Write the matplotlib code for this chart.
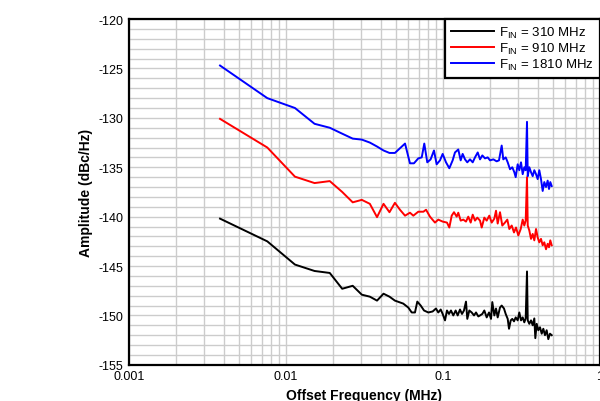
import matplotlib
matplotlib.use("Agg")
import matplotlib.pyplot as plt
from matplotlib.ticker import LogLocator, MultipleLocator

plt.rcParams["font.family"] = ["Liberation Sans", "DejaVu Sans"]
plt.rcParams["mathtext.fontset"] = "custom"
plt.rcParams["mathtext.rm"] = "Liberation Sans"
plt.rcParams["axes.unicode_minus"] = False

# offset frequency (MHz) and phase noise (dBc/Hz)
freq_310 = [0.0038, 0.0076, 0.0114, 0.0152, 0.019, 0.0228, 0.0266, 0.0304, 0.0342, 0.038,
            0.0418, 0.0456, 0.0494, 0.0558, 0.0601, 0.0632, 0.0663, 0.0686, 0.0721, 0.0757,
            0.0806, 0.0859, 0.0902, 0.0933, 0.0967, 0.0995, 0.1030, 0.1060, 0.1092, 0.1124,
            0.1163, 0.1204, 0.1240, 0.1283, 0.1321, 0.1360, 0.1401, 0.1428, 0.1471, 0.1523,
            0.1576, 0.1623, 0.1679, 0.1721, 0.1780, 0.1833, 0.1898, 0.1964, 0.2022, 0.2061,
            0.2123, 0.2176, 0.2230, 0.2307, 0.2365, 0.2446, 0.2508, 0.2583, 0.2633, 0.2700,
            0.2763, 0.2833, 0.2904, 0.2990, 0.3062, 0.3140, 0.3218, 0.3295, 0.3363, 0.3428,
            0.3465, 0.3546, 0.3636, 0.3726, 0.3816, 0.3873, 0.3952, 0.4046, 0.4148, 0.4253,
            0.4355, 0.4463, 0.4574, 0.4685, 0.4803, 0.4924]
pn_310 = [-140.2, -142.5, -144.85, -145.5, -145.7, -147.3, -147.0, -147.9, -148.1, -148.5,
          -147.8, -148.1, -148.5, -148.8, -149.2, -149.7, -149.7, -148.6, -149.0, -149.5,
          -149.7, -149.6, -149.3, -149.7, -149.4, -149.85, -150.5, -149.5, -149.85, -149.5,
          -150.0, -149.5, -150.0, -149.4, -149.85, -149.5, -148.6, -150.35, -149.5, -149.7,
          -150.0, -149.7, -150.1, -150.0, -149.85, -149.5, -150.2, -149.7, -150.35, -148.65,
          -150.0, -149.3, -150.2, -149.2, -149.0, -149.3, -149.85, -150.35, -151.35, -150.5,
          -150.35, -150.6, -150.2, -150.5, -149.7, -150.5, -150.2, -150.7, -150.3, -145.55,
          -150.5, -150.85, -150.5, -151.0, -150.3, -152.3, -150.85, -151.5, -151.2, -151.85,
          -151.35, -152.0, -151.5, -152.4, -151.85, -152.0]

freq_910 = [0.0038, 0.0076, 0.0114, 0.0152, 0.019, 0.0228, 0.0266, 0.0304, 0.0342, 0.038,
            0.0418, 0.0456, 0.0494, 0.0532, 0.0573, 0.0616, 0.0647, 0.0696, 0.0750, 0.0780,
            0.0826, 0.0889, 0.0933, 0.0995, 0.1060, 0.1097, 0.1136, 0.1175, 0.1222, 0.1251,
            0.1296, 0.1347, 0.1401, 0.1449, 0.1501, 0.1546, 0.1599, 0.1654, 0.1721, 0.1764,
            0.1833, 0.1898, 0.1972, 0.2043, 0.2123, 0.2176, 0.2230, 0.2307, 0.2386, 0.2482,
            0.2568, 0.2645, 0.2739, 0.2833, 0.2918, 0.3018, 0.3126, 0.3218, 0.3295, 0.3363,
            0.3428, 0.3465, 0.3546, 0.3636, 0.3726, 0.3816, 0.3913, 0.4009, 0.4105, 0.4209,
            0.4314, 0.4418, 0.4530, 0.4642, 0.4733, 0.4824, 0.4924]
pn_910 = [-130.1, -133.0, -135.95, -136.6, -136.4, -137.5, -138.55, -138.3, -138.7, -140.05,
          -138.7, -139.55, -138.6, -139.3, -139.9, -139.6, -139.9, -139.5, -139.5, -139.3,
          -140.0, -140.6, -140.3, -140.5, -140.6, -141.1, -139.9, -139.55, -140.0, -139.6,
          -140.4, -140.3, -140.5, -140.0, -140.6, -139.8, -140.4, -140.1, -140.4, -141.1,
          -140.1, -140.4, -139.9, -140.6, -140.2, -139.4, -140.7, -139.55, -140.9, -140.6,
          -140.3, -141.25, -140.9, -141.6, -141.1, -141.9, -141.25, -140.3, -140.9, -140.4,
          -136.0, -140.9, -141.4, -142.25, -141.75, -142.4, -141.25, -142.1, -142.6, -142.25,
          -142.9, -142.6, -143.3, -142.75, -143.1, -142.4, -142.9]

freq_1810 = [0.0038, 0.0076, 0.0114, 0.0152, 0.019, 0.0228, 0.0266, 0.0304, 0.0342, 0.038,
             0.0418, 0.0456, 0.0494, 0.0573, 0.0616, 0.0653, 0.0696, 0.0732, 0.0760, 0.0794,
             0.0834, 0.0876, 0.0911, 0.0957, 0.0995, 0.1045, 0.1097, 0.1152, 0.1192, 0.1251,
             0.1296, 0.1334, 0.1381, 0.1428, 0.1486, 0.1546, 0.1599, 0.1664, 0.1721, 0.1780,
             0.1852, 0.1926, 0.1993, 0.2093, 0.2197, 0.2273, 0.2365, 0.2421, 0.2508, 0.2583,
             0.2672, 0.2763, 0.2846, 0.2904, 0.2990, 0.3062, 0.3140, 0.3218, 0.3295, 0.3363,
             0.3428, 0.3465, 0.3546, 0.3636, 0.3726, 0.3816, 0.3913, 0.4009, 0.4105, 0.4209,
             0.4314, 0.4418, 0.4530, 0.4642, 0.4733, 0.4824, 0.4924]
pn_1810 = [-124.7, -128.0, -129.0, -130.6, -131.0, -131.6, -132.1, -132.2, -132.5, -132.9,
           -133.3, -133.55, -133.55, -132.6, -134.6, -134.6, -134.1, -134.0, -132.6, -134.5,
           -134.2, -133.3, -134.7, -134.3, -133.65, -134.5, -135.1, -134.3, -133.5, -133.2,
           -134.3, -133.65, -134.2, -134.5, -134.2, -134.5, -134.0, -133.5, -134.2, -133.8,
           -134.1, -134.0, -134.3, -134.2, -134.4, -134.3, -132.8, -134.2, -134.0, -134.5,
           -135.2, -135.0, -135.5, -136.0, -134.7, -135.3, -134.5, -135.7, -135.0, -135.3,
           -130.4, -135.9, -135.0, -135.5, -135.9, -135.3, -135.7, -136.2, -135.3, -136.2,
           -137.4, -136.5, -137.0, -136.35, -137.2, -136.5, -136.9]

series = [
    (freq_310, pn_310, "black", r"F$_{\mathrm{IN}}$ = 310 MHz"),
    (freq_910, pn_910, "#ff0000", r"F$_{\mathrm{IN}}$ = 910 MHz"),
    (freq_1810, pn_1810, "#0000ff", r"F$_{\mathrm{IN}}$ = 1810 MHz"),
]

fig = plt.figure(figsize=(6.0, 4.02), dpi=100)
ax = fig.add_axes([0.215, 0.09, 0.785, 0.86])

for f, pn, c, lab in series:
    ax.plot(f, pn, color=c, linewidth=1.4, label=lab)

ax.set_xscale("log")
ax.set_xlim(0.001, 1)
ax.set_ylim(-155, -120)
ax.set_xticks([0.001, 0.01, 0.1, 1])
ax.set_xticklabels(["0.001", "0.01", "0.1", "1"])
ax.xaxis.set_minor_locator(LogLocator(base=10, subs=range(2, 10)))
ax.xaxis.set_minor_formatter(plt.NullFormatter())
ax.yaxis.set_major_locator(MultipleLocator(5))
ax.yaxis.set_minor_locator(MultipleLocator(1))

ax.grid(True, which="both", color="#cccccc", linewidth=1.0)
ax.set_axisbelow(True)
ax.tick_params(which="both", length=0, labelsize=9, pad=4)

for s in ax.spines.values():
    s.set_linewidth(1.6)
    s.set_color("black")

ax.set_xlabel("Offset Frequency (MHz)", fontsize=10, fontweight="bold", labelpad=4)
ax.set_ylabel("Amplitude (dBc/Hz)", fontsize=10, fontweight="bold", labelpad=4)

leg = ax.legend(loc="upper right", bbox_to_anchor=(1.0, 1.0), fontsize=9.5,
                fancybox=False, framealpha=1, edgecolor="black", borderaxespad=0,
                handlelength=3.3, handletextpad=0.4, labelspacing=0.05,
                borderpad=0.45)
leg.get_frame().set_linewidth(1.6)

fig.savefig("out.png", dpi=100)
